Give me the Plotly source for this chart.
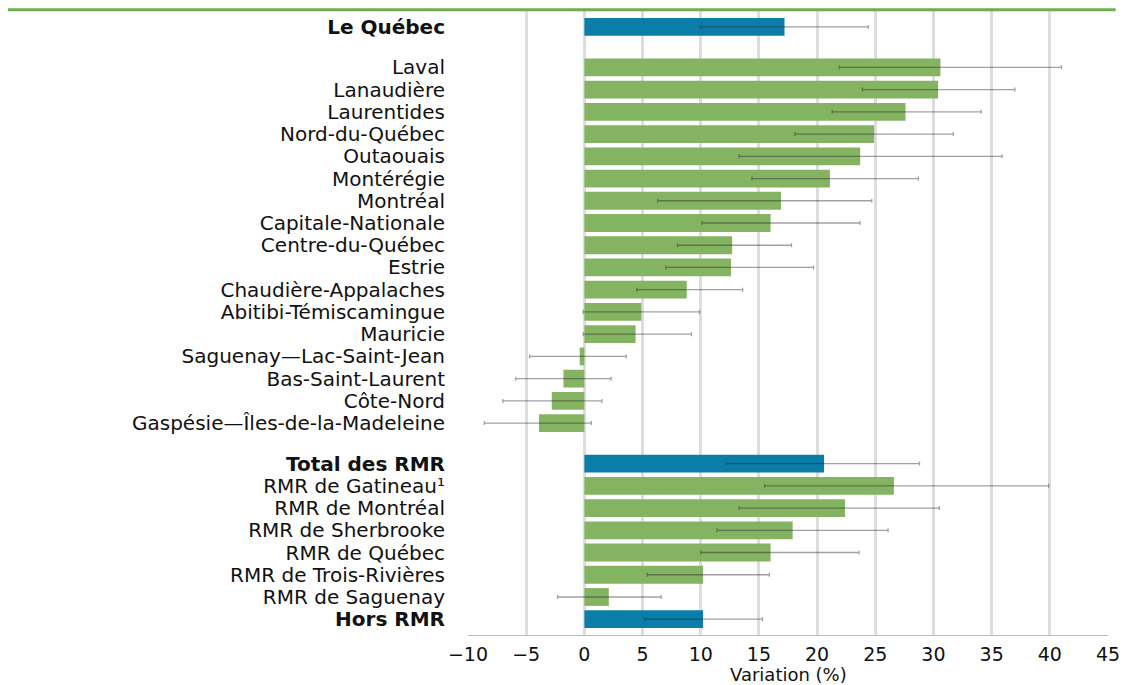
import plotly.graph_objects as go

# ---- data ----
categories = [
    "Le Québec",
    "Laval", "Lanaudière", "Laurentides", "Nord-du-Québec", "Outaouais",
    "Montérégie", "Montréal", "Capitale-Nationale", "Centre-du-Québec",
    "Estrie", "Chaudière-Appalaches", "Abitibi-Témiscamingue", "Mauricie",
    "Saguenay—Lac-Saint-Jean", "Bas-Saint-Laurent", "Côte-Nord",
    "Gaspésie—Îles-de-la-Madeleine",
    "Total des RMR",
    "RMR de Gatineau¹", "RMR de Montréal", "RMR de Sherbrooke",
    "RMR de Québec", "RMR de Trois-Rivières", "RMR de Saguenay",
    "Hors RMR",
]
values = [17.2,
          30.6, 30.4, 27.6, 24.9, 23.7, 21.1, 16.9, 16.0, 12.7, 12.6, 8.8,
          4.9, 4.4, -0.4, -1.8, -2.8, -3.9,
          20.6,
          26.6, 22.4, 17.9, 16.0, 10.2, 2.1,
          10.2]
ci_low = [10.0,
          21.9, 23.9, 21.3, 18.1, 13.3, 14.4, 6.3, 10.1, 8.0, 7.0, 4.5,
          -0.1, -0.1, -4.7, -5.9, -7.0, -8.6,
          12.2,
          15.5, 13.3, 11.4, 10.0, 5.4, -2.3,
          5.2]
ci_high = [24.4,
           41.0, 37.0, 34.1, 31.7, 35.9, 28.7, 24.7, 23.7, 17.8, 19.7, 13.6,
           9.9, 9.2, 3.6, 2.3, 1.5, 0.6,
           28.8,
           39.9, 30.5, 26.1, 23.6, 15.9, 6.6,
           15.3]
is_total = [True] + [False] * 17 + [True] + [False] * 6 + [True]
bold_labels = {"Le Québec", "Total des RMR", "Hors RMR"}
group_start = {"Laval", "Total des RMR"}  # rows preceded by a gap
x_ticks = list(range(-10, 50, 5))
x_title = "Variation (%)"

# ---- layout helpers ----
GAP = 0.82
positions = []
p = 0.0
for i, c in enumerate(categories):
    if i > 0:
        p += 1.0 + (GAP if c in group_start else 0.0)
    positions.append(p)

BLUE = "#0A7EA8"
GREEN = "#84B462"
colors = [BLUE if t else GREEN for t in is_total]
err_plus = [h - v for h, v in zip(ci_high, values)]
err_minus = [v - l for v, l in zip(values, ci_low)]
ticktext = [f"<b>{c}</b>" if c in bold_labels else c for c in categories]

fig = go.Figure()
fig.add_trace(go.Bar(
    y=positions, x=values, orientation="h",
    marker=dict(color=colors, line=dict(width=0)),
    width=0.8,
    error_x=dict(type="data", symmetric=False, array=err_plus,
                 arrayminus=err_minus, color="rgba(30,30,30,0.42)",
                 thickness=1.3, width=2),
    hoverinfo="x+y",
))

FONT = "DejaVu Sans"
FS = 20
fig.update_layout(
    width=1120, height=677,
    margin=dict(l=460, r=20, t=2, b=50),
    plot_bgcolor="white", paper_bgcolor="white",
    showlegend=False,
    font=dict(family=FONT, size=FS, color="#111111"),
    xaxis=dict(
        range=[-10, 45], tickvals=x_ticks,
        automargin=False,
        showgrid=True, gridcolor="#DDDDDD", gridwidth=3,
        zeroline=False,
        showline=True, linecolor="#BBBBBB", linewidth=1, mirror=True,
        ticks="outside", ticklen=2, tickcolor="rgba(0,0,0,0)",
        tickfont=dict(size=19, family=FONT),
    ),
    yaxis=dict(
        range=[positions[-1] + 0.71, -0.76],
        tickvals=positions, ticktext=ticktext,
        automargin=False,
        showgrid=False, zeroline=False, ticks="",
        tickfont=dict(size=FS, family=FONT),
        ticklabelstandoff=22,
    ),
    annotations=[dict(text=x_title, xref="paper", yref="paper",
                      x=0.5, y=-0.0625, xanchor="center", yanchor="middle",
                      showarrow=False, font=dict(size=18, family=FONT))],
    shapes=[dict(type="line", xref="paper", yref="paper",
                 x0=-0.735, x1=1.012, y0=1.0005, y1=1.0005,
                 line=dict(color="#6CB04E", width=3))],
)

fig.write_html("out.html")
